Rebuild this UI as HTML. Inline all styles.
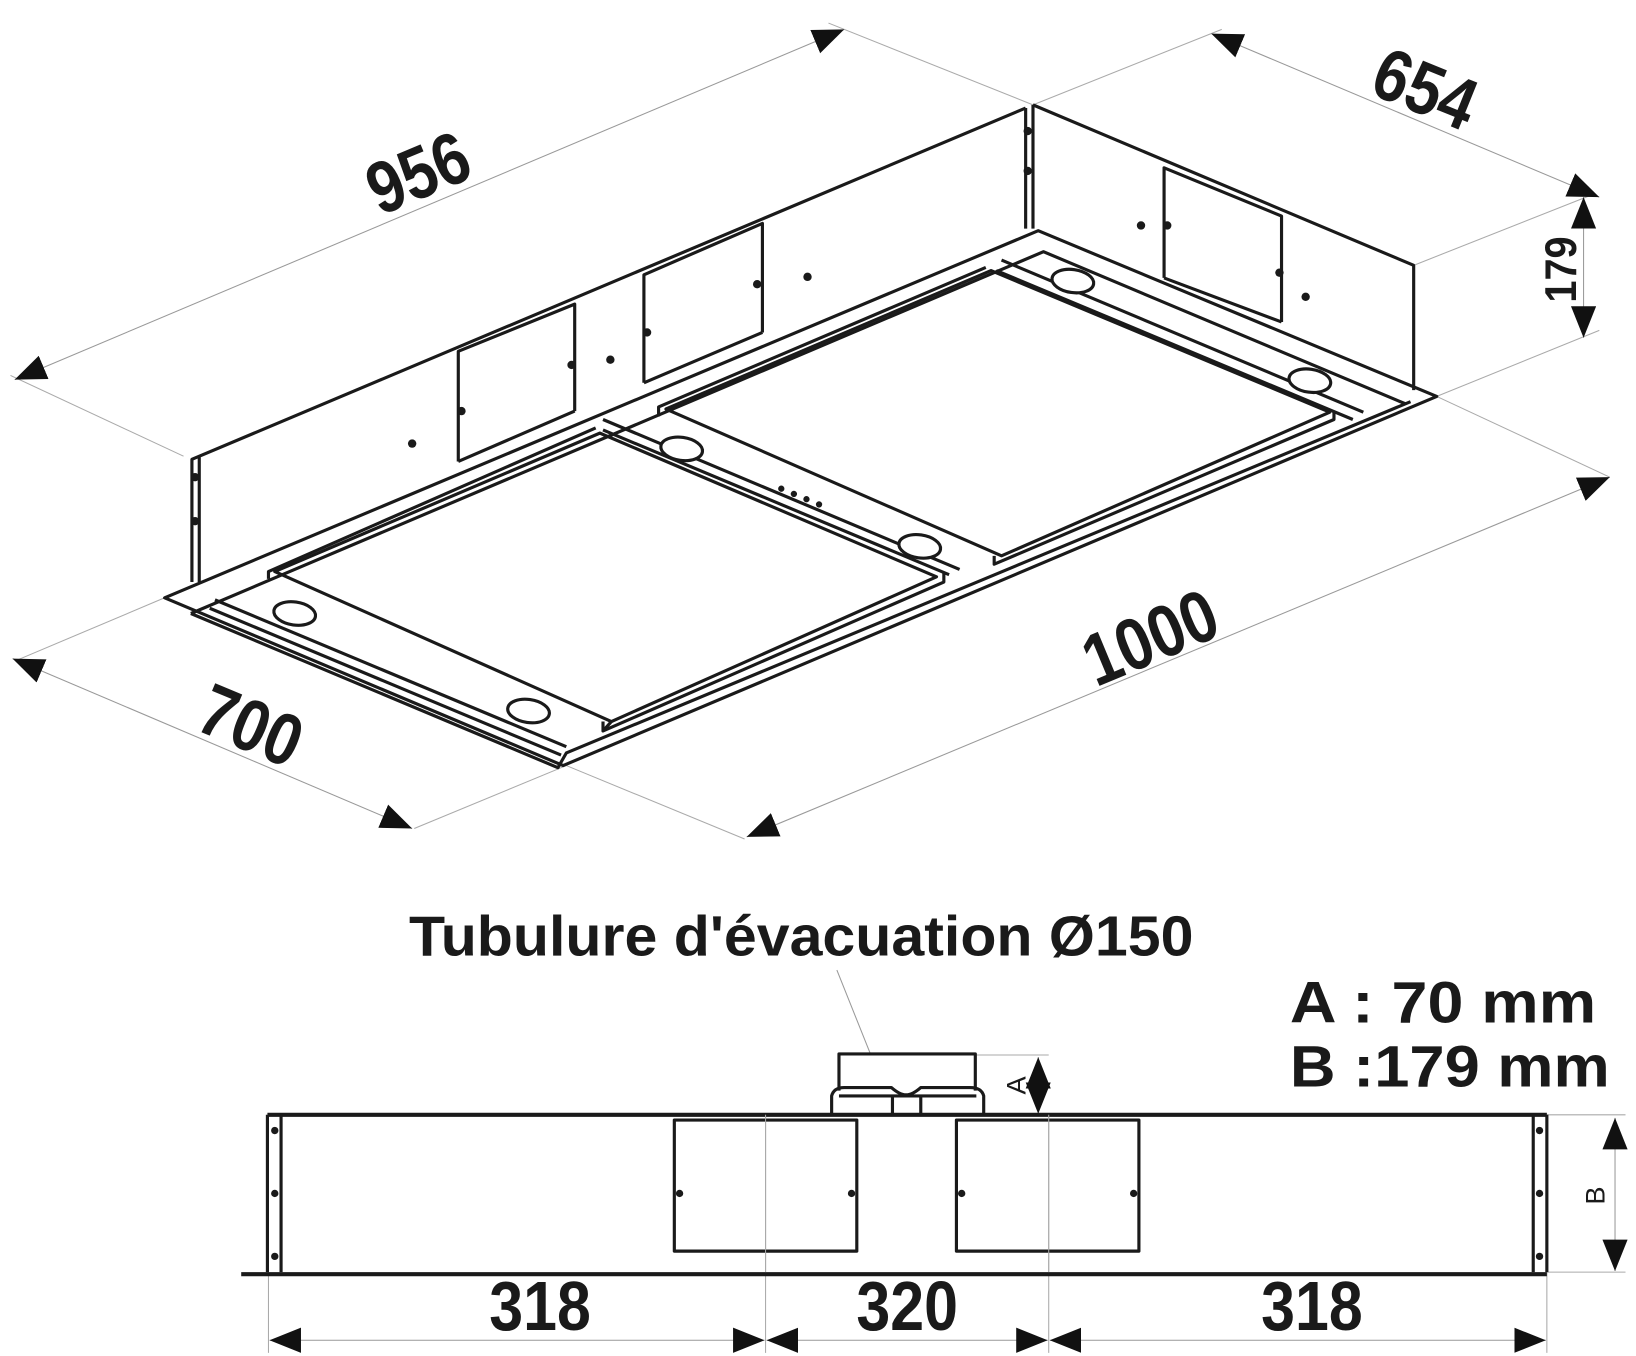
<!DOCTYPE html>
<html><head><meta charset="utf-8"><style>
html,body{margin:0;padding:0;background:#fff;}
svg{display:block;}
text{font-family:"Liberation Sans",sans-serif;font-weight:bold;fill:#1a1a1a;}
</style></head><body>
<svg width="1636" height="1356" viewBox="0 0 1560 1293" xmlns="http://www.w3.org/2000/svg">
<defs>
<marker id="ar" markerUnits="userSpaceOnUse" markerWidth="34" markerHeight="26" refX="30" refY="12" orient="auto-start-reverse">
<path d="M0,0 L30,12 L0,24 z" fill="#111"/>
</marker>
</defs>
<g stroke="#aaa" stroke-width="1" fill="none">
<line x1="175" y1="435" x2="10" y2="358"/>
<line x1="985" y1="100" x2="790" y2="22"/>
<line x1="985" y1="100" x2="1165" y2="28"/>
<line x1="1348" y1="253" x2="1520" y2="185"/>
<line x1="1370" y1="378" x2="1525" y2="315"/>
<line x1="1370" y1="378" x2="1535" y2="455"/>
<line x1="157" y1="570" x2="15" y2="630"/>
<line x1="540" y1="730" x2="395" y2="790"/>
<line x1="540" y1="730" x2="710" y2="800"/>
</g>
<g stroke="#999" stroke-width="1" fill="none" marker-start="url(#ar)" marker-end="url(#ar)">
<line x1="14" y1="362" x2="805" y2="28"/>
<line x1="1155" y1="32" x2="1525" y2="188"/>
<line x1="1510" y1="188" x2="1510" y2="322"/>
<line x1="712" y1="798" x2="1535" y2="455"/>
<line x1="12" y1="628" x2="393" y2="790"/>
</g>
<g stroke="#1a1a1a" stroke-width="3" fill="none" stroke-linejoin="round">
<polyline points="183,555 183,438 978,103"/>
<line x1="190" y1="436" x2="190" y2="555"/>
<polyline points="978,103 978,218"/>
<polyline points="985,100 985,218"/>
<polyline points="985,100 1348,253 1348,372"/>
<polyline points="437,440 437,335 548,290 548,392"/>
<line x1="437" y1="440" x2="548" y2="392"/>
<polyline points="614,365 614,262 727,213 727,317"/>
<line x1="614" y1="365" x2="727" y2="317"/>
<polyline points="1110,265 1110,160 1222,206 1222,307"/>
<line x1="1110" y1="265" x2="1222" y2="307"/>
<polygon points="157,570 990,220 1370,378 537,730"/>
<polyline points="182,585 995,240 1340,385"/>
<polyline points="182,585 532,732 540,718 1345,383"/>
<line x1="205" y1="572" x2="540" y2="712"/>
<line x1="200" y1="580" x2="535" y2="720"/>
<polygon points="262,545 572,413 893,550 583,688"/>
<polyline points="256,552 256,545 568,408"/>
<polyline points="575,688 575,697 900,555 900,545"/>
<line x1="583" y1="688" x2="575" y2="697"/>
<line x1="575" y1="410" x2="905" y2="548"/>
<line x1="575" y1="400" x2="915" y2="543"/>
<polygon points="635,390 945,258 1268,393 955,530"/>
<polyline points="628,397 628,388 940,255"/>
<polyline points="948,530 948,538 1272,400 1272,392"/>
<line x1="950" y1="258" x2="1290" y2="400"/>
<line x1="955" y1="248" x2="1300" y2="393"/>
</g>
<g stroke="#1a1a1a" stroke-width="3" fill="#fff">
<ellipse cx="281" cy="585" rx="20" ry="11" transform="rotate(8 281 585)"/>
<ellipse cx="504" cy="678" rx="20" ry="11" transform="rotate(8 504 678)"/>
<ellipse cx="650" cy="428" rx="20" ry="11" transform="rotate(8 650 428)"/>
<ellipse cx="877" cy="521" rx="20" ry="11" transform="rotate(8 877 521)"/>
<ellipse cx="1023" cy="268" rx="20" ry="11" transform="rotate(8 1023 268)"/>
<ellipse cx="1249" cy="363" rx="20" ry="11" transform="rotate(8 1249 363)"/>
</g>
<g fill="#1a1a1a">
<circle cx="393" cy="423" r="4"/><circle cx="440" cy="392" r="4"/><circle cx="545" cy="348" r="4"/>
<circle cx="582" cy="343" r="4"/><circle cx="617" cy="317" r="4"/><circle cx="722" cy="271" r="4"/>
<circle cx="770" cy="264" r="4"/><circle cx="1088" cy="215" r="4"/><circle cx="1113" cy="215" r="4"/>
<circle cx="1220" cy="260" r="4"/><circle cx="1245" cy="283" r="4"/><circle cx="186" cy="455" r="4"/>
<circle cx="186" cy="497" r="4"/><circle cx="980" cy="163" r="4"/><circle cx="980" cy="125" r="4"/>
<circle cx="745" cy="466" r="3"/><circle cx="757" cy="471" r="3"/><circle cx="769" cy="476" r="3"/><circle cx="781" cy="481" r="3"/>
</g>
<text font-size="70" text-anchor="middle" transform="translate(408,187) rotate(-22.6) scale(0.85,1)">956</text>
<text font-size="70" text-anchor="middle" transform="translate(1350,107) rotate(22) scale(0.85,1)">654</text>
<text font-size="70" text-anchor="middle" transform="translate(1106,630) rotate(-22.6) scale(0.85,1)">1000</text>
<text font-size="70" text-anchor="middle" transform="translate(230,714) rotate(22.7) scale(0.85,1)">700</text>
<text font-size="42" text-anchor="middle" transform="translate(1503,257) rotate(-90) scale(0.9,1)">179</text>

<text x="390" y="911" font-size="54" textLength="748" lengthAdjust="spacingAndGlyphs">Tubulure d'évacuation Ø150</text>
<text x="1230" y="975" font-size="56" textLength="292" lengthAdjust="spacingAndGlyphs">A :  70 mm</text>
<text x="1230" y="1036" font-size="56" textLength="305" lengthAdjust="spacingAndGlyphs">B :179 mm</text>
<line x1="798" y1="925" x2="830" y2="1005" stroke="#999" stroke-width="1"/>
<g stroke="#aaa" stroke-width="1" fill="none">
<line x1="930" y1="1006" x2="1000" y2="1006"/>
<line x1="1475" y1="1063" x2="1550" y2="1063"/>
<line x1="1475" y1="1213" x2="1550" y2="1213"/>
<line x1="256" y1="1213" x2="256" y2="1290"/>
<line x1="730" y1="1063" x2="730" y2="1290"/>
<line x1="1000" y1="1063" x2="1000" y2="1290"/>
<line x1="1475" y1="1213" x2="1475" y2="1290"/>
</g>
<g stroke="#999" stroke-width="1" fill="none" marker-start="url(#ar)" marker-end="url(#ar)">
<line x1="990" y1="1008" x2="990" y2="1062"/>
<line x1="1540" y1="1066" x2="1540" y2="1212"/>
<line x1="257" y1="1278" x2="729" y2="1278"/>
<line x1="731" y1="1278" x2="999" y2="1278"/>
<line x1="1001" y1="1278" x2="1474" y2="1278"/>
</g>
<g stroke="#1a1a1a" stroke-width="3" fill="none" stroke-linejoin="round">
<line x1="255" y1="1063" x2="1475" y2="1063" stroke-width="4"/>
<line x1="230" y1="1215" x2="1475" y2="1215" stroke-width="4"/>
<line x1="255" y1="1063" x2="255" y2="1213"/>
<line x1="268" y1="1063" x2="268" y2="1213"/>
<line x1="1462" y1="1063" x2="1462" y2="1213"/>
<line x1="1475" y1="1063" x2="1475" y2="1213"/>
<rect x="643" y="1068" width="174" height="125"/>
<rect x="912" y="1068" width="174" height="125"/>
<path d="M800,1040 V1005 H930 V1040"/>
<path d="M793,1063 V1045 Q795,1037 805,1037 H850 Q858,1044 864,1044 Q870,1044 878,1037 H925 Q936,1037 938,1045 V1063"/>
<line x1="800" y1="1045" x2="931" y2="1045"/>
<line x1="851" y1="1045" x2="851" y2="1063"/>
<line x1="878" y1="1045" x2="878" y2="1063"/>
</g>
<line x1="730" y1="1063" x2="730" y2="1213" stroke="#aaa" stroke-width="1"/>
<line x1="1000" y1="1063" x2="1000" y2="1213" stroke="#aaa" stroke-width="1"/>
<g fill="#1a1a1a">
<circle cx="262" cy="1078" r="3.5"/><circle cx="262" cy="1138" r="3.5"/><circle cx="262" cy="1198" r="3.5"/>
<circle cx="1468" cy="1078" r="3.5"/><circle cx="1468" cy="1138" r="3.5"/><circle cx="1468" cy="1198" r="3.5"/>
<circle cx="648" cy="1138" r="3.5"/><circle cx="812" cy="1138" r="3.5"/>
<circle cx="917" cy="1138" r="3.5"/><circle cx="1081" cy="1138" r="3.5"/>
</g>
<text font-size="26" text-anchor="middle" transform="translate(978,1035) rotate(-90)" style="font-weight:normal">A</text>
<text font-size="26" text-anchor="middle" transform="translate(1530,1140) rotate(-90)" style="font-weight:normal">B</text>
<text font-size="66" text-anchor="middle" transform="translate(515,1268) scale(0.88,1)">318</text>
<text font-size="66" text-anchor="middle" transform="translate(865,1268) scale(0.88,1)">320</text>
<text font-size="66" text-anchor="middle" transform="translate(1251,1268) scale(0.88,1)">318</text>
</svg>
</body></html>
